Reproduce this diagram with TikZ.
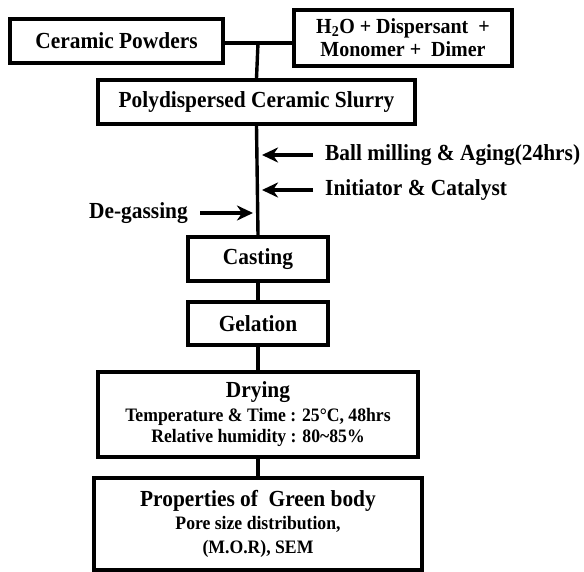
\documentclass[tikz,border=0pt]{standalone}
\usepackage{fontspec}
\setmainfont{Liberation Serif}[FakeStretch=0.93]
\usetikzlibrary{arrows.meta}
\newcommand{\subtext}{\fontsize{19}{21}\selectfont}
\tikzset{
  stage/.style={draw, line width=3.4pt, align=center, inner sep=0pt, font=\bfseries\fontsize{23}{24}\selectfont},
  link/.style={line width=3.4pt},
  feed/.style={line width=3.4pt, -{Stealth[length=16pt,width=15pt,inset=5pt]}},
  note/.style={inner sep=0pt, font=\bfseries\fontsize{23}{24}\selectfont},
}
\begin{document}
\begin{tikzpicture}[x=1pt,y=-1pt]
\useasboundingbox (0,0) rectangle (584,572);
\node[stage, minimum width=213pt, minimum height=44pt] (powders) at (116.5,41) {Ceramic Powders};
\node[stage, minimum width=218pt, minimum height=56pt, font=\bfseries\fontsize{21.5}{23}\selectfont] (mix) at (403,38) {H\textsubscript{2}O + Dispersant\ \ +\\Monomer +\ \ Dimer};
\node[stage, minimum width=317pt, minimum height=44pt] (slurry) at (256.5,102) {Polydispersed Ceramic Slurry};
\node[stage, minimum width=140pt, minimum height=44pt] (casting) at (258,259) {Casting};
\node[stage, minimum width=140pt, minimum height=43pt] (gelation) at (258,323.5) {Gelation};
\node[stage, minimum width=320pt, minimum height=85pt] (drying) at (258,414.5) {Drying\\{\subtext Temperature \& Time : 25°C, 48hrs}\\[-3pt]{\subtext Relative humidity : 80\textasciitilde 85\%}};
\node[stage, minimum width=328pt, minimum height=92pt] (green) at (258,524) {Properties of\ \ Green body\\[-1pt]{\subtext Pore size distribution,}\\{\subtext (M.O.R), SEM}};
\node[note, anchor=west] (ball) at (325,155) {Ball milling \& Aging(24hrs)};
\node[note, anchor=west] (init) at (325,190) {Initiator \& Catalyst};
\node[note, anchor=east] (degas) at (188,213) {De-gassing};
\coordinate (join) at (258,43);
\coordinate (balltip) at (262,155);
\coordinate (inittip) at (262,190);
\coordinate (degastip) at (253,213);
\draw[link] (powders.east |- join) -- (join) -- (join -| mix.west);
\draw[link] (join) -- (slurry.north);
\draw[link] (slurry.south) -- (casting.north);
\draw[link] (casting.south) -- (gelation.north);
\draw[link] (gelation.south) -- (drying.north);
\draw[link] (drying.south) -- (green.north);
\draw[feed] ([xshift=-12pt]ball.west) -- (balltip);
\draw[feed] ([xshift=-12pt]init.west) -- (inittip);
\draw[feed] ([xshift=12pt]degas.east) -- (degastip);
\end{tikzpicture}
\end{document}
